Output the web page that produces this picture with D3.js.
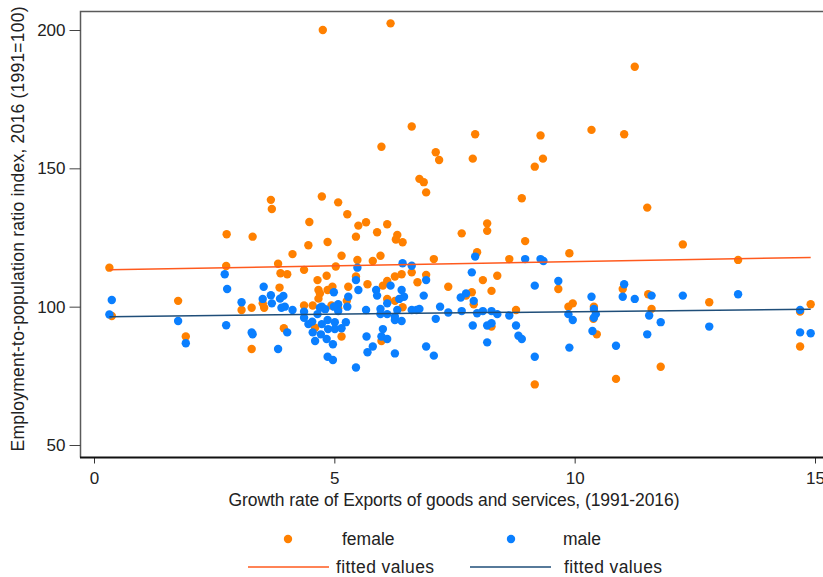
<!DOCTYPE html>
<html>
<head>
<meta charset="utf-8">
<script src="https://cdn.jsdelivr.net/npm/d3@7"></script>
<style>
  body { margin: 0; background: #fff; }
  svg text { font-family: 'Liberation Sans Narrow', 'Liberation Sans', Arial, sans-serif; fill: #222; }
</style>
</head>
<body>
<svg id="chart" width="823" height="577"></svg>
<script>
// data: [growth rate, index]
var female = [
  [0.32,114.1],[0.37,96.6],[1.75,102.1],[1.91,89.2],[2.76,126.2],[2.75,114.7],[3.30,125.3],[3.07,98.8],
  [3.28,99.6],[3.28,84.7],[3.68,138.6],[3.70,135.3],[3.83,115.5],[3.88,112.1],[4.02,111.7],[3.86,106.9],
  [3.51,101.2],[3.54,99.6],[3.95,92.2],[4.13,119.0],[4.48,130.6],[4.46,122.2],[4.74,139.8],[4.86,123.4],
  [4.37,113.3],[4.65,109.6],[4.84,111.2],[4.67,106.0],[4.70,104.8],[4.67,102.9],[4.86,106.0],[4.37,100.4],
  [4.55,100.4],[4.60,92.4],[4.76,200.0],[6.17,202.4],[6.61,165.1],[5.98,157.8],[7.93,162.3],[9.29,161.9],
  [7.11,155.8],[7.18,153.0],[7.88,153.5],[9.34,153.5],[9.17,150.6],[6.77,146.2],[6.86,145.0],[6.91,141.3],
  [8.90,139.2],[5.08,137.7],[5.27,133.4],[5.50,129.3],[5.66,130.5],[6.10,129.8],[5.89,126.9],[5.45,125.3],
  [6.31,125.9],[6.28,124.3],[6.42,123.3],[5.15,118.4],[5.96,118.4],[5.48,116.9],[5.80,116.5],[7.07,117.2],
  [7.65,126.5],[8.18,130.1],[8.18,127.4],[8.97,123.7],[7.97,119.7],[8.64,117.2],[5.03,114.5],[4.96,107.2],
  [5.29,107.2],[5.45,110.9],[5.69,108.1],[6.01,107.6],[6.10,109.3],[6.26,110.9],[6.40,111.7],[6.61,112.4],
  [6.73,108.8],[6.91,111.5],[7.37,107.2],[8.09,109.6],[8.39,111.2],[7.86,105.2],[8.27,105.7],[7.74,104.0],
  [7.90,100.9],[5.26,102.1],[6.10,102.8],[6.26,102.1],[6.42,99.8],[4.94,100.4],[5.08,99.4],[5.15,89.2],
  [5.98,87.6],[8.78,98.8],[8.27,92.8],[9.17,71.9],[11.25,186.7],[10.35,163.9],[11.03,162.3],[11.51,135.8],
  [12.25,122.5],[9.89,119.3],[13.40,116.9],[9.66,106.4],[11.00,106.4],[9.87,100.0],[9.96,101.2],[10.40,100.0],
  [11.53,104.5],[11.60,99.2],[12.80,101.6],[14.91,100.9],[14.69,98.2],[10.39,95.6],[10.46,90.0],[14.69,85.6],
  [11.79,78.3],[10.86,73.9]
];
var male = [
  [0.32,97.2],[0.37,102.4],[1.75,94.8],[1.91,86.8],[2.72,111.7],[2.77,106.4],[2.75,93.3],[3.07,101.6],
  [3.28,90.7],[3.30,90.0],[3.53,107.2],[3.68,104.1],[3.51,102.8],[3.70,101.2],[3.87,102.9],[3.94,103.9],
  [3.90,99.6],[3.97,100.0],[4.13,98.8],[4.02,90.7],[3.83,84.7],[4.70,99.6],[4.81,99.1],[4.37,98.2],
  [4.65,97.3],[4.37,96.0],[4.46,93.7],[4.54,94.6],[4.74,93.7],[4.86,95.2],[4.55,90.7],[4.72,90.0],
  [4.60,87.6],[4.84,88.3],[4.86,81.9],[6.42,115.7],[6.61,114.8],[5.48,114.1],[5.45,109.6],[5.50,106.0],
  [6.17,107.6],[6.40,106.0],[6.91,109.6],[5.87,106.0],[5.89,104.0],[4.99,105.2],[5.29,103.6],[6.45,103.6],
  [6.35,102.8],[6.86,104.0],[7.93,118.1],[8.97,117.2],[9.29,117.2],[9.35,116.5],[7.86,112.4],[9.17,107.6],
  [9.66,109.3],[7.63,103.3],[7.74,104.8],[7.90,102.1],[7.20,100.0],[6.61,98.8],[6.71,98.8],[6.77,99.2],
  [7.37,97.9],[7.65,98.4],[7.97,97.6],[8.09,98.4],[8.27,98.4],[8.39,97.3],[8.64,96.8],[7.11,95.6],
  [7.88,93.2],[8.18,93.2],[8.27,94.0],[8.78,93.2],[8.83,89.5],[8.90,88.3],[8.18,87.1],[6.91,85.6],
  [7.07,82.3],[9.17,81.9],[6.26,83.1],[5.45,78.0],[5.69,83.5],[5.80,85.6],[5.67,89.2],[5.98,89.2],
  [6.10,88.3],[6.01,91.9],[6.26,95.2],[6.26,96.4],[6.31,98.8],[6.10,97.3],[5.96,97.3],[5.96,99.2],
  [6.10,101.2],[5.66,98.8],[5.27,100.0],[5.08,100.9],[5.08,98.4],[4.99,100.0],[4.74,100.0],[4.87,91.9],
  [5.01,94.4],[5.01,91.9],[5.15,92.2],[5.24,94.4],[4.97,86.4],[4.97,80.7],[6.40,94.8],[11.03,108.1],
  [10.35,103.6],[11.00,103.6],[11.25,102.8],[11.60,104.0],[12.25,104.0],[13.40,104.5],[10.40,99.2],[9.87,97.3],
  [9.96,95.2],[10.44,97.3],[10.40,96.0],[11.55,96.8],[11.79,94.4],[10.37,91.2],[11.51,90.0],[12.80,92.8],
  [14.69,98.8],[14.69,90.7],[14.91,90.4],[9.89,85.2],[10.86,85.9]
];
// fitted values at the ends of the x range
var fitX = [0.32, 14.91];
var femaleFit = [113.3, 117.8];
var maleFit = [96.4, 99.1];

var xTicks = [0, 5, 10, 15];
var yTicks = [50, 100, 150, 200];

var X_TITLE = 'Growth rate of Exports of goods and services, (1991-2016)';
var Y_TITLE = 'Employment-to-population ratio index, 2016 (1991=100)';

var ORANGE = '#ff8000';
var BLUE = '#0a7fff';
var FIT_ORANGE = '#ff5a1e';
var FIT_BLUE = '#1f4e79';

var MARGINS = { top: 11, right: 0, bottom: 120, left: 80 };
var WIDTH = 823, HEIGHT = 577;

var svg = d3.select('#chart');

var x = d3.scaleLinear().domain([0, 15]).range([94, 815]);
var y = d3.scaleLinear().domain([50, 200]).range([445, 30]);

var plotBottom = HEIGHT - MARGINS.bottom + 0.5;

// frame (top and left)
svg.append('path')
  .attr('d', 'M' + (WIDTH) + ',' + (MARGINS.top + 0.5) + 'H' + (MARGINS.left + 0.5) + 'V' + plotBottom)
  .attr('fill', 'none')
  .attr('stroke', '#5a5a5a')
  .attr('stroke-width', 1.5);

// y axis
var yAxis = svg.append('g')
  .attr('transform', 'translate(' + (MARGINS.left + 0.5) + ',0)')
  .call(d3.axisLeft(y).tickValues(yTicks).tickSize(11).tickPadding(4));
yAxis.select('.domain').remove();
yAxis.selectAll('line').attr('stroke', '#444');
yAxis.selectAll('text').style('font-size', '17px').attr('fill', '#222');

// x axis (the "15" label runs off the right edge, as in the original)
var xAxis = svg.append('g')
  .attr('transform', 'translate(0,' + plotBottom + ')')
  .call(d3.axisBottom(x).tickValues(xTicks).tickSize(6).tickPadding(8));
xAxis.select('.domain').remove();
xAxis.selectAll('line').attr('stroke', '#333');
xAxis.selectAll('text').style('font-size', '17px').attr('fill', '#222');
svg.append('line')
  .attr('x1', MARGINS.left).attr('x2', WIDTH)
  .attr('y1', plotBottom).attr('y2', plotBottom)
  .attr('stroke', '#111').attr('stroke-width', 2);

// titles
svg.append('text')
  .attr('x', 454).attr('y', 506)
  .attr('text-anchor', 'middle')
  .style('font-size', '17.5px')
  .attr('textLength', 451)
  .text(X_TITLE);

svg.append('text')
  .attr('transform', 'translate(24,229) rotate(-90)')
  .attr('text-anchor', 'middle')
  .style('font-size', '17.5px')
  .attr('textLength', 445)
  .text(Y_TITLE);

// points
function drawPoints(data, color) {
  svg.append('g')
    .selectAll('circle')
    .data(data)
    .enter()
    .append('circle')
    .attr('cx', function(d) { return x(d[0]); })
    .attr('cy', function(d) { return y(d[1]); })
    .attr('r', 4.2)
    .attr('fill', color);
}
drawPoints(female, ORANGE);
drawPoints(male, BLUE);

// fitted lines
var line = d3.line()
  .x(function(d) { return x(d[0]); })
  .y(function(d) { return y(d[1]); });

function drawFit(vals, color) {
  svg.append('path')
    .datum(fitX.map(function(v, i) { return [v, vals[i]]; }))
    .attr('d', line)
    .attr('fill', 'none')
    .attr('stroke', color)
    .attr('stroke-width', 1.5);
}
drawFit(femaleFit, FIT_ORANGE);
drawFit(maleFit, FIT_BLUE);

// legend
var legend = svg.append('g').style('font-size', '17.5px');
var items = [
  { kind: 'dot', color: ORANGE, label: 'female', x: 288, y: 539, tx: 342 },
  { kind: 'dot', color: BLUE, label: 'male', x: 511, y: 539, tx: 563 },
  { kind: 'line', color: FIT_ORANGE, label: 'fitted values', x: 288, y: 567, tx: 336 },
  { kind: 'line', color: FIT_BLUE, label: 'fitted values', x: 510, y: 567, tx: 564 }
];
items.forEach(function(it) {
  if (it.kind === 'dot') {
    legend.append('circle').attr('cx', it.x).attr('cy', it.y).attr('r', 4.2).attr('fill', it.color);
    legend.append('text').attr('x', it.tx).attr('y', it.y + 6).text(it.label);
  } else {
    legend.append('line')
      .attr('x1', it.x - 40).attr('x2', it.x + 41)
      .attr('y1', it.y).attr('y2', it.y)
      .attr('stroke', it.color).attr('stroke-width', 1.5);
    legend.append('text').attr('x', it.tx).attr('y', it.y + 6)
      .attr('textLength', 98).text(it.label);
  }
});
</script>
</body>
</html>
